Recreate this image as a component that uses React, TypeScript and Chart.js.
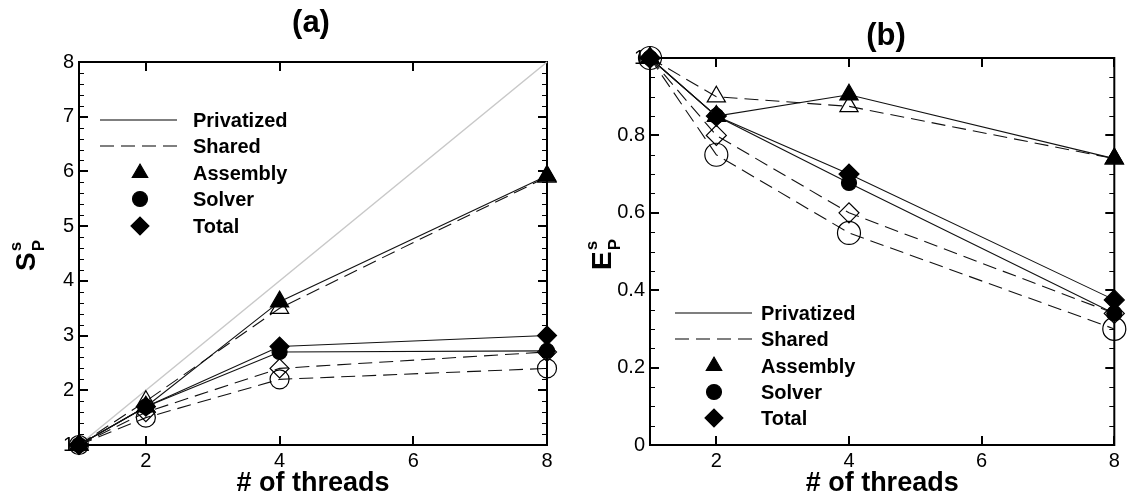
import { useEffect, useRef } from "react";
import { Chart, registerables } from "chart.js";
import { drawPoint } from "chart.js/helpers";

Chart.register(...registerables);

// ---------------- data ----------------
const threads = [1, 2, 4, 8];
const xTickValues = [2, 4, 6, 8];
const xTickLabels = ["2", "4", "6", "8"];

const speedupTickValues = [1, 2, 3, 4, 5, 6, 7, 8];
const speedupTickLabels = ["1", "2", "3", "4", "5", "6", "7", "8"];
const efficiencyTickValues = [0, 0.2, 0.4, 0.6, 0.8, 1];
const efficiencyTickLabels = ["0", "0.2", "0.4", "0.6", "0.8", "1"];

const idealThreads = [1, 8];
const idealSpeedup = [1, 8];

const speedupAssemblyPrivatized = [1, 1.7, 3.62, 5.92];
const speedupAssemblyShared = [1, 1.8, 3.5, 5.9];
const speedupSolverPrivatized = [1, 1.7, 2.7, 2.72];
const speedupSolverShared = [1, 1.5, 2.2, 2.4];
const speedupTotalPrivatized = [1, 1.7, 2.8, 3.0];
const speedupTotalShared = [1, 1.6, 2.4, 2.7];

const effAssemblyPrivatized = [1, 0.85, 0.905, 0.74];
const effAssemblyShared = [1, 0.9, 0.875, 0.74];
const effSolverPrivatized = [1, 0.85, 0.677, 0.34];
const effSolverShared = [1, 0.75, 0.548, 0.3];
const effTotalPrivatized = [1, 0.85, 0.7, 0.375];
const effTotalShared = [1, 0.8, 0.6, 0.34];

const legendLabels = ["Privatized", "Shared", "Assembly", "Solver", "Total"];

// ---------------- helpers ----------------
const FONT = "'Liberation Sans', Arial, Helvetica, sans-serif";
const DASH = [14, 7];

type Marker = { style: string; r: number };

function series(xs: number[], ys: number[], dashed: boolean, filled: boolean, m: Marker) {
  return {
    data: xs.map((x, i) => ({ x, y: ys[i] })),
    borderColor: "#111",
    borderWidth: 1.1,
    borderDash: dashed ? DASH : [],
    pointStyle: m.style,
    pointRadius: m.r,
    pointBackgroundColor: filled ? "#000" : "rgba(0,0,0,0)",
    pointBorderColor: "#000",
    pointBorderWidth: 1.2,
    clip: false as any,
    tension: 0,
    fill: false,
  };
}

type PanelCfg = {
  title: string;
  titleX: number;
  titleY: number;
  letter: string;
  letterX: number;
  letterY: number;
  minorStep: number;
  legendLineX0: number;
  legendLineX1: number;
  legendMarkerX: number;
  legendTextX: number;
  legendY: number[];
};

function makePlugin(cfg: PanelCfg) {
  return {
    id: "panelDecor",
    beforeDatasetsDraw(chart: any) {
      const ctx = chart.ctx as CanvasRenderingContext2D;
      const { left, right, top, bottom } = chart.chartArea;
      const xs = chart.scales.x;
      const ys = chart.scales.y;
      ctx.save();
      ctx.strokeStyle = "#000";
      ctx.lineWidth = 1;
      const eps = 1e-9;
      for (let v = ys.min; v <= ys.max + eps; v += cfg.minorStep) {
        const py = Math.round(ys.getPixelForValue(v)) + 0.5;
        ctx.beginPath();
        ctx.moveTo(left, py);
        ctx.lineTo(left + 5, py);
        ctx.moveTo(right, py);
        ctx.lineTo(right - 5, py);
        ctx.stroke();
      }
      ctx.lineWidth = 2;
      ys.ticks.forEach((t: any) => {
        const py = Math.round(ys.getPixelForValue(t.value));
        ctx.beginPath();
        ctx.moveTo(left, py);
        ctx.lineTo(left + 9, py);
        ctx.moveTo(right, py);
        ctx.lineTo(right - 9, py);
        ctx.stroke();
      });
      xs.ticks.forEach((t: any) => {
        const px = Math.round(xs.getPixelForValue(t.value));
        ctx.beginPath();
        ctx.moveTo(px, bottom);
        ctx.lineTo(px, bottom - 9);
        ctx.moveTo(px, top);
        ctx.lineTo(px, top + 9);
        ctx.stroke();
      });
      ctx.lineWidth = 2;
      ctx.strokeRect(left, top, right - left, bottom - top);
      ctx.restore();
    },
    afterDraw(chart: any) {
      const ctx = chart.ctx as CanvasRenderingContext2D;
      const { left, right } = chart.chartArea;
      ctx.save();
      ctx.fillStyle = "#000";
      ctx.strokeStyle = "#000";
      ctx.font = `bold 31px ${FONT}`;
      ctx.textAlign = "center";
      ctx.textBaseline = "middle";
      ctx.fillText(cfg.title, cfg.titleX, cfg.titleY);
      ctx.font = `bold 27px ${FONT}`;
      ctx.textBaseline = "alphabetic";
      ctx.fillText("# of threads", (left + right) / 2, 491);
      ctx.save();
      ctx.translate(cfg.letterX, cfg.letterY);
      ctx.rotate(-Math.PI / 2);
      ctx.textAlign = "left";
      ctx.font = `bold 28px ${FONT}`;
      ctx.fillText(cfg.letter, 0, 0);
      const w = ctx.measureText(cfg.letter).width;
      ctx.font = `bold 17px ${FONT}`;
      ctx.fillText("s", w + 1, -14);
      ctx.fillText("P", w + 1, 9);
      ctx.restore();
      ctx.font = `bold 20px ${FONT}`;
      ctx.textAlign = "left";
      ctx.textBaseline = "middle";
      const ly = cfg.legendY;
      ctx.lineWidth = 1.1;
      ctx.beginPath();
      ctx.setLineDash([]);
      ctx.moveTo(cfg.legendLineX0, ly[0]);
      ctx.lineTo(cfg.legendLineX1, ly[0]);
      ctx.stroke();
      ctx.beginPath();
      ctx.setLineDash(DASH);
      ctx.moveTo(cfg.legendLineX0, ly[1]);
      ctx.lineTo(cfg.legendLineX1, ly[1]);
      ctx.stroke();
      ctx.setLineDash([]);
      const styles: Marker[] = [
        { style: "triangle", r: 9 },
        { style: "circle", r: 7.5 },
        { style: "rectRot", r: 9 },
      ];
      styles.forEach((m, i) => {
        drawPoint(ctx, { pointStyle: m.style as any, radius: m.r, borderWidth: 1, rotation: 0 } as any, cfg.legendMarkerX, ly[i + 2]);
      });
      legendLabels.forEach((lab, i) => {
        ctx.fillText(lab, cfg.legendTextX, ly[i] + 1);
      });
      ctx.restore();
    },
  };
}

function baseOptions(
  pad: { left: number; right: number; top: number },
  yMin: number,
  yMax: number,
  yTicks: number[],
  yLabels: string[],
  yWidth: number
) {
  return {
    responsive: false,
    animation: false as const,
    devicePixelRatio: 1,
    events: [] as any[],
    layout: { padding: { left: pad.left, right: pad.right, top: pad.top, bottom: 0 } },
    plugins: { legend: { display: false }, tooltip: { enabled: false }, title: { display: false } },
    scales: {
      x: {
        type: "linear" as const,
        min: 1,
        max: 8,
        grid: { display: false, drawTicks: false },
        border: { display: false },
        afterBuildTicks: (s: any) => {
          s.ticks = xTickValues.map((v) => ({ value: v }));
        },
        afterFit: (s: any) => {
          s.height = 53;
        },
        ticks: {
          padding: 4,
          color: "#000",
          font: { family: FONT, size: 20 },
          maxRotation: 0,
          autoSkip: false,
          callback: (v: any) => {
            const i = xTickValues.indexOf(Number(v));
            return i >= 0 ? xTickLabels[i] : "";
          },
        },
      },
      y: {
        type: "linear" as const,
        min: yMin,
        max: yMax,
        grid: { display: false, drawTicks: false },
        border: { display: false },
        afterBuildTicks: (s: any) => {
          s.ticks = yTicks.map((v) => ({ value: v }));
        },
        afterFit: (s: any) => {
          s.width = yWidth;
        },
        ticks: {
          padding: 5,
          color: "#000",
          font: { family: FONT, size: 20 },
          autoSkip: false,
          callback: (v: any) => {
            const i = yTicks.findIndex((t) => Math.abs(t - Number(v)) < 1e-9);
            return i >= 0 ? yLabels[i] : "";
          },
        },
      },
    },
  };
}

const mTri: Marker = { style: "triangle", r: 10.5 };
const mCirFilledA: Marker = { style: "circle", r: 7.5 };
const mCirOpenA: Marker = { style: "circle", r: 9.5 };
const mDia: Marker = { style: "rectRot", r: 9.5 };
const mCirFilledB: Marker = { style: "circle", r: 7.5 };
const mCirOpenB: Marker = { style: "circle", r: 11.5 };
const mDiaB: Marker = { style: "rectRot", r: 10 };

export default function App() {
  const refA = useRef<HTMLCanvasElement>(null);
  const refB = useRef<HTMLCanvasElement>(null);

  useEffect(() => {
    const chartA = new Chart(refA.current as HTMLCanvasElement, {
      type: "line",
      data: {
        datasets: [
          series(threads, speedupAssemblyPrivatized, false, true, mTri),
          series(threads, speedupTotalPrivatized, false, true, mDia),
          series(threads, speedupSolverPrivatized, false, true, mCirFilledA),
          series(threads, speedupAssemblyShared, true, false, mTri),
          series(threads, speedupTotalShared, true, false, mDia),
          series(threads, speedupSolverShared, true, false, mCirOpenA),
          {
            data: idealThreads.map((x, i) => ({ x, y: idealSpeedup[i] })),
            borderColor: "#c8c8c8",
            borderWidth: 1.5,
            pointRadius: 0,
            clip: false as any,
            fill: false,
          },
        ] as any,
      },
      options: baseOptions({ left: 0, right: 563 - 547, top: 62 }, 1, 8, speedupTickValues, speedupTickLabels, 79) as any,
      plugins: [
        makePlugin({
          title: "(a)",
          titleX: 311,
          titleY: 23,
          letter: "S",
          letterX: 35,
          letterY: 271,
          minorStep: 0.2,
          legendLineX0: 100,
          legendLineX1: 177,
          legendMarkerX: 140,
          legendTextX: 193,
          legendY: [120, 146, 173, 199, 226],
        }),
      ],
    });

    const chartB = new Chart(refB.current as HTMLCanvasElement, {
      type: "line",
      data: {
        datasets: [
          series(threads, effAssemblyPrivatized, false, true, mTri),
          series(threads, effTotalPrivatized, false, true, mDiaB),
          series(threads, effSolverPrivatized, false, true, mCirFilledB),
          series(threads, effAssemblyShared, true, false, mTri),
          series(threads, effTotalShared, true, false, mDiaB),
          series(threads, effSolverShared, true, false, mCirOpenB),
        ] as any,
      },
      options: baseOptions({ left: 0, right: 564 - 557, top: 58 }, 0, 1, efficiencyTickValues, efficiencyTickLabels, 87) as any,
      plugins: [
        makePlugin({
          title: "(b)",
          titleX: 886 - 563,
          titleY: 36,
          letter: "E",
          letterX: 48,
          letterY: 270,
          minorStep: 0.05,
          legendLineX0: 675 - 563,
          legendLineX1: 752 - 563,
          legendMarkerX: 714 - 563,
          legendTextX: 761 - 563,
          legendY: [313, 339, 366, 392, 418],
        }),
      ],
    });

    return () => {
      chartA.destroy();
      chartB.destroy();
    };
  }, []);

  return (
    <div style={{ position: "absolute", left: 0, top: 0, width: 1127, height: 498, background: "#fff" }}>
      <canvas ref={refA} width={563} height={498} style={{ position: "absolute", left: 0, top: 0, width: 563, height: 498 }} />
      <canvas ref={refB} width={564} height={498} style={{ position: "absolute", left: 563, top: 0, width: 564, height: 498 }} />
    </div>
  );
}
